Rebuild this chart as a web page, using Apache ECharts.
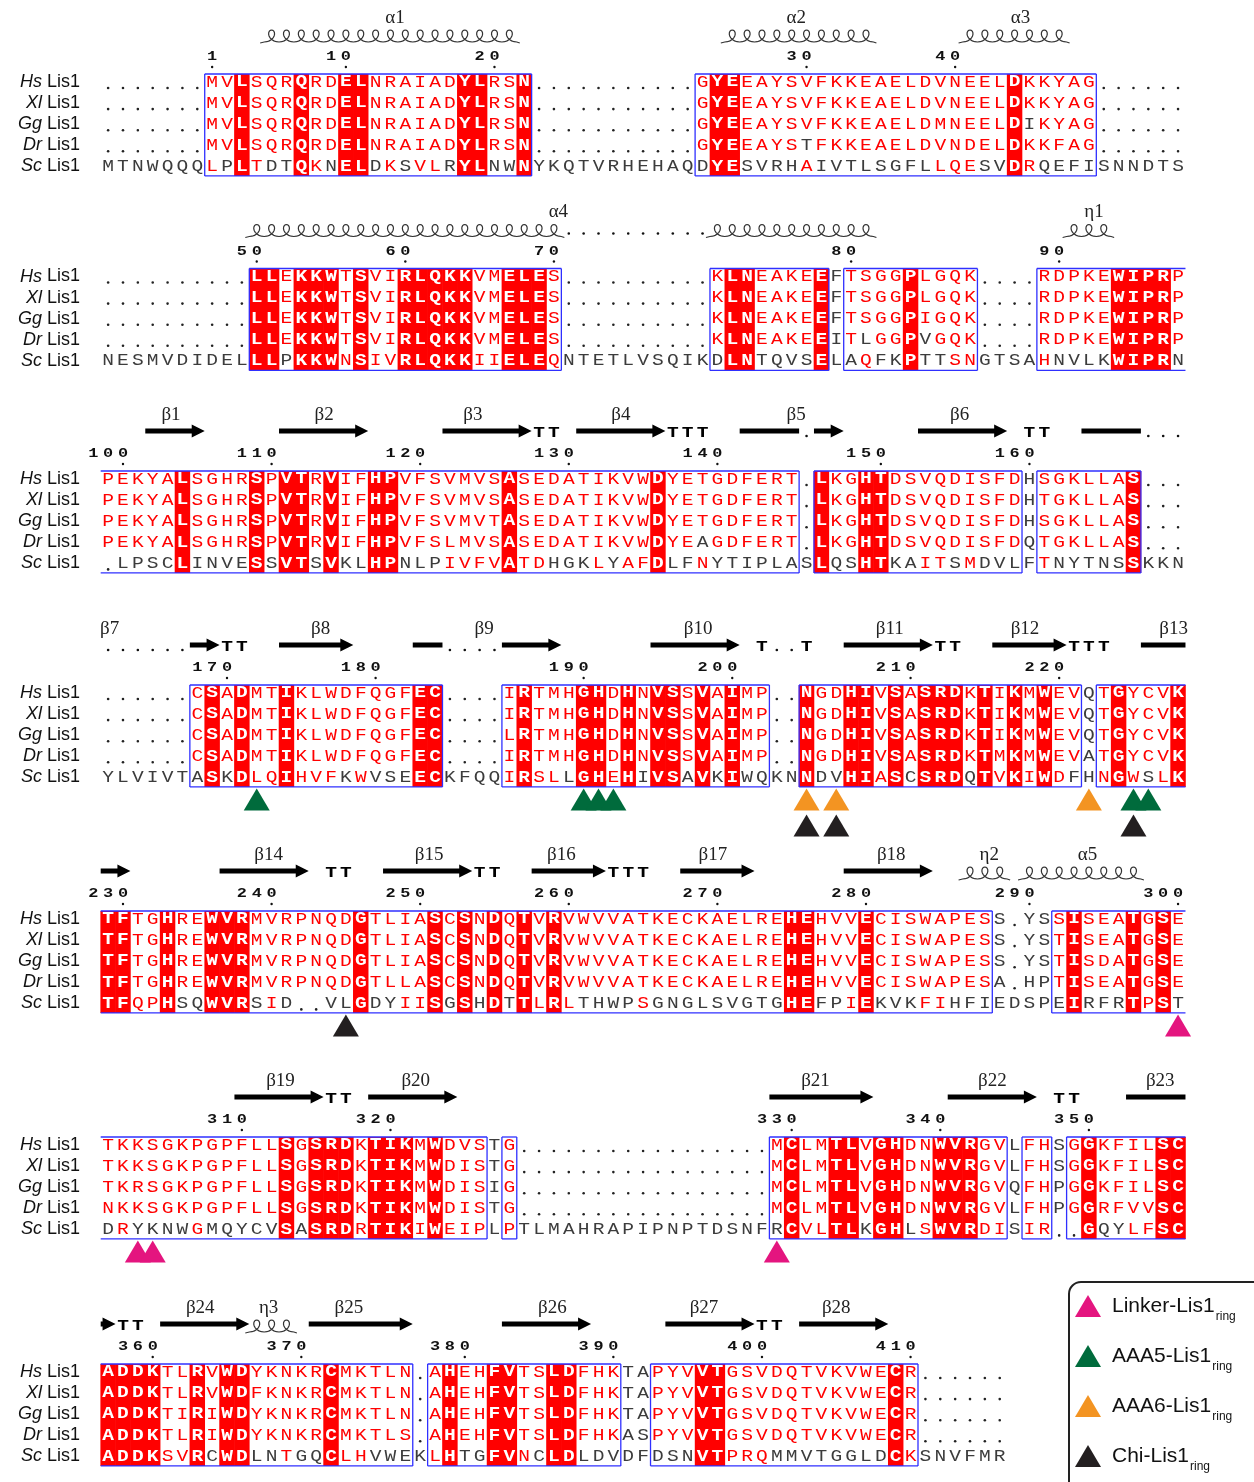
<!DOCTYPE html>
<html>
<head>
<meta charset="utf-8">
<script src="https://cdn.jsdelivr.net/npm/echarts@6.0.0/dist/echarts.min.js"></script>
<style>
html,body{margin:0;padding:0;background:#ffffff;}
#chart{width:1254px;height:1482px;}
</style>
</head>
<body>
<div id="chart"></div>
<script>
// ================= DATA =================
const speciesNames = ['Hs', 'Xl', 'Gg', 'Dr', 'Sc'];
const markKinds = ['Linker-Lis1', 'AAA5-Lis1', 'AAA6-Lis1', 'Chi-Lis1'];
const markColors = ['#e4157f', '#006b3c', '#f39422', '#231f20'];

// ---- block 1 ----
const b1Seq = [
  '.......MVLSQRQRDELNRAIADYLRSN...........GYEEAYSVFKKEAELDVNEELDKKYAG......',
  '.......MVLSQRQRDELNRAIADYLRSN...........GYEEAYSVFKKEAELDVNEELDKKYAG......',
  '.......MVLSQRQRDELNRAIADYLRSN...........GYEEAYSVFKKEAELDMNEELDIKYAG......',
  '.......MVLSQRQRDELNRAIADYLRSN...........GYEEAYSTFKKEAELDVNDELDKKFAG......',
  'MTNWQQQLPLTDTQKNELDKSVLRYLNWNYKQTVRHEHAQDYESVRHAIVTLSGFLLQESVDRQEFISNNDTS'
];
const b1Ident = [9, 13, 16, 17, 24, 25, 28, 41, 42, 61];
const b1Boxes = [[7, 28, 0, 0], [40, 66, 0, 0]];
const b1Plain = [[2, [62]], [3, [47]], [4, [8, 11, 12, 15, 18, 20, 23, 26, 27, 40, 43, 44, 45, 46, 48, 49, 50, 51, 52, 53, 54, 55, 59, 60, 63, 64, 65, 66]]];
const b1Numbers = [[7, '1'], [16, '10'], [26, '20'], [47, '30'], [57, '40']];
const b1Helix = [[11, 27], [42, 51], [58, 64]];
const b1Strand = [], b1Coil = [], b1Turn = [], b1Gap = [];
const b1SSLabel = [[19.8, 'α1'], [46.8, 'α2'], [61.9, 'α3']];
const b1Marks = [];

// ---- block 2 ----
const b2Seq = [
  '..........LLEKKWTSVIRLQKKVMELES..........KLNEAKEEFTSGGPLGQK....RDPKEWIPRP',
  '..........LLEKKWTSVIRLQKKVMELES..........KLNEAKEEFTSGGPLGQK....RDPKEWIPRP',
  '..........LLEKKWTSVIRLQKKVMELES..........KLNEAKEEFTSGGPIGQK....RDPKEWIPRP',
  '..........LLEKKWTSVIRLQKKVMELES..........KLNEAKEEITLGGPVGQK....RDPKEWIPRP',
  'NESMVDIDELLLPKKWNSIVRLQKKIIELEQNTETLVSQIKDLNTQVSELAQFKPTTSNGTSAHNVLKWIPRN'
];
const b2Ident = [10, 11, 13, 14, 15, 17, 20, 21, 22, 23, 24, 27, 28, 29, 42, 43, 48, 54, 68, 69, 70, 71];
const b2Boxes = [[10, 30, 0, 0], [41, 48, 0, 0], [50, 58, 0, 0], [63, 72, 0, 1]];
const b2Plain = [[3, [51, 55]], [4, [12, 41, 44, 45, 46, 47, 50, 52, 53, 55, 56, 64, 65, 66, 67, 72]]];
const b2Numbers = [[10, '50'], [20, '60'], [30, '70'], [50, '80'], [64, '90']];
const b2Helix = [[10, 30], [41, 51], [65, 67]];
const b2Strand = [], b2Coil = [], b2Turn = [];
const b2Gap = [31, 32, 33, 34, 35, 36, 37, 38, 39, 40];
const b2SSLabel = [[30.8, 'α4'], [66.85, 'η1']];
const b2Marks = [];

// ---- block 3 ----
const b3Seq = [
  'PEKYALSGHRSPVTRVIFHPVFSVMVSASEDATIKVWDYETGDFERT.LKGHTDSVQDISFDHSGKLLAS...',
  'PEKYALSGHRSPVTRVIFHPVFSVMVSASEDATIKVWDYETGDFERT.LKGHTDSVQDISFDHTGKLLAS...',
  'PEKYALSGHRSPVTRVIFHPVFSVMVTASEDATIKVWDYETGDFERT.LKGHTDSVQDISFDHSGKLLAS...',
  'PEKYALSGHRSPVTRVIFHPVFSLMVSASEDATIKVWDYEAGDFERT.LKGHTDSVQDISFDQTGKLLAS...',
  '.LPSCLINVESSVTSVKLHPNLPIVFVATDHGKLYAFDLFNYTIPLASLQSHTKAITSMDVLFTNYTNSSKKN'
];
const b3Ident = [5, 10, 12, 13, 15, 18, 19, 27, 37, 48, 51, 52, 69];
const b3Boxes = [[0, 46, 1, 0], [48, 61, 0, 0], [63, 69, 0, 0]];
const b3Plain = [[3, [40]], [4, [1, 2, 3, 4, 6, 7, 8, 9, 11, 14, 16, 17, 20, 21, 22, 30, 31, 32, 34, 38, 39, 41, 42, 43, 44, 45, 46, 49, 50, 53, 54, 57, 59, 60, 61, 64, 65, 66, 67, 68]]];
const b3Numbers = [[1, '100'], [11, '110'], [21, '120'], [31, '130'], [41, '140'], [52, '150'], [62, '160']];
const b3Helix = [];
const b3Strand = [[3, 6], [12, 17], [23, 28], [32, 37], [48, 49], [55, 60]];
const b3Coil = [[43, 46], [66, 69]];
const b3Turn = [29, 30, 38, 39, 40, 62, 63];
const b3Gap = [47, 70, 71, 72];
const b3SSLabel = [[4.73, 'β1'], [15.03, 'β2'], [25.05, 'β3'], [35, 'β4'], [46.8, 'β5'], [57.8, 'β6']];
const b3Marks = [];

// ---- block 4 ----
const b4Seq = [
  '......CSADMTIKLWDFQGFEC....IRTMHGHDHNVSSVAIMP..NGDHIVSASRDKTIKMWEVQTGYCVK',
  '......CSADMTIKLWDFQGFEC....IRTMHGHDHNVSSVAIMP..NGDHIVSASRDKTIKMWEVQTGYCVK',
  '......CSADMTIKLWDFQGFEC....LRTMHGHDHNVSSVAIMP..NGDHIVSASRDKTIKMWEVQTGYCVK',
  '......CSADMTIKLWDFQGFEC....IRTMHGHDHNVSSVAIMP..NGDHIVSASRDKTMKMWEVATGYCVK',
  'YLVIVTASKDLQIHVFKWVSEECKFQQIRSLLGHEHIVSAVKIWQKNNDVHIASCSRDQTVKIWDFHNGWSLK'
];
const b4Ident = [7, 9, 12, 21, 22, 28, 32, 33, 35, 37, 38, 40, 42, 47, 50, 51, 53, 55, 56, 57, 59, 61, 63, 68, 72];
const b4Boxes = [[6, 22, 0, 0], [27, 44, 0, 0], [47, 65, 0, 0], [67, 72, 0, 1]];
const b4Plain = [[4, [6, 8, 16, 18, 19, 20, 31, 36, 39, 41, 43, 44, 48, 49, 54, 58, 65, 70]]];
const b4Numbers = [[8, '170'], [18, '180'], [32, '190'], [42, '200'], [54, '210'], [64, '220']];
const b4Helix = [];
const b4Strand = [[6, 7], [12, 16], [27, 30], [37, 42], [50, 55], [60, 64]];
const b4Coil = [[21, 22], [70, 72]];
const b4Turn = [8, 9, 44, 47, 56, 57, 65, 66, 67];
const b4Gap = [0, 1, 2, 3, 4, 5, 23, 24, 25, 26, 45, 46];
const b4SSLabel = [[0.6, 'β7'], [14.8, 'β8'], [25.8, 'β9'], [40.2, 'β10'], [53.1, 'β11'], [62.2, 'β12'], [72.2, 'β13']];
// [column, level, kind index]
const b4Marks = [[10, 0, 1], [32, 0, 1], [33, 0, 1], [34, 0, 1], [47, 0, 2], [49, 0, 2], [66, 0, 2], [69, 0, 1], [70, 0, 1], [47, 1, 3], [49, 1, 3], [69, 1, 3]];

// ---- block 5 ----
const b5Seq = [
  'TFTGHREWVRMVRPNQDGTLIASCSNDQTVRVWVVATKECKAELREHEHVVECISWAPESS.YSSISEATGSE',
  'TFTGHREWVRMVRPNQDGTLIASCSNDQTVRVWVVATKECKAELREHEHVVECISWAPESS.YSTISEATGSE',
  'TFTGHREWVRMVRPNQDGTLIASCSNDQTVRVWVVATKECKAELREHEHVVECISWAPESS.YSTISDATGSE',
  'TFTGHREWVRMVRPNQDGTLLASCSNDQTVRVWVVATKECKAELREHEHVVECISWAPESA.HPTISEATGSE',
  'TFQPHSQWVRSID..VLGDYIISGSHDTTLRLTHWPSGNGLSVGTGHEFPIEKVKFIHFIEDSPEIRFRTPST'
];
const b5Ident = [0, 1, 4, 7, 8, 9, 17, 22, 24, 26, 28, 30, 46, 47, 51, 65, 69, 71];
const b5Boxes = [[0, 59, 1, 0], [64, 72, 0, 1]];
const b5Plain = [[4, [5, 6, 10, 12, 15, 16, 18, 19, 23, 25, 27, 32, 33, 34, 35, 37, 38, 39, 40, 41, 42, 43, 44, 45, 48, 49, 52, 53, 54, 57, 58, 59, 64, 66, 67, 68, 72]]];
const b5Numbers = [[1, '230'], [11, '240'], [21, '250'], [31, '260'], [41, '270'], [51, '280'], [62, '290'], [72, '300']];
const b5Helix = [[58, 60], [62, 69]];
const b5Strand = [[0, 1], [8, 13], [19, 24], [29, 33], [39, 43], [50, 55]];
const b5Coil = [];
const b5Turn = [15, 16, 25, 26, 34, 35, 36];
const b5Gap = [];
const b5SSLabel = [[11.3, 'β14'], [22.1, 'β15'], [31, 'β16'], [41.2, 'β17'], [53.2, 'β18'], [59.8, 'η2'], [66.4, 'α5']];
const b5Marks = [[16, 0, 3], [72, 0, 0]];

// ---- block 6 ----
const b6Seq = [
  'TKKSGKPGPFLLSGSRDKTIKMWDVSTG.................MCLMTLVGHDNWVRGVLFHSGGKFILSC',
  'TKKSGKPGPFLLSGSRDKTIKMWDISTG.................MCLMTLVGHDNWVRGVLFHSGGKFILSC',
  'TKRSGKPGPFLLSGSRDKTIKMWDISIG.................MCLMTLVGHDNWVRGVQFHPGGKFILSC',
  'NKKSGKPGPFLLSGSRDKTIKMWDISTG.................MCLMTLVGHDNWVRGVLFHPGGRFVVSC',
  'DRYKNWGMQYCVSASRDRTIKIWEIPLPTLMAHRAPIPNPTDSNFRCVLTLKGHLSWVRDISIR..GQYLFSC'
];
const b6Ident = [12, 14, 15, 16, 18, 19, 20, 22, 46, 49, 50, 52, 53, 56, 57, 58, 66, 71, 72];
const b6Boxes = [[0, 25, 1, 0], [27, 27, 0, 0], [45, 60, 0, 0], [62, 63, 0, 0], [65, 72, 0, 1]];
const b6Plain = [[4, [0, 2, 3, 4, 5, 7, 8, 9, 10, 11, 13, 45, 51, 54, 67, 68]]];
const b6Numbers = [[9, '310'], [19, '320'], [46, '330'], [56, '340'], [66, '350']];
const b6Helix = [];
const b6Strand = [[9, 14], [18, 23], [45, 51], [57, 62]];
const b6Coil = [[69, 72]];
const b6Turn = [15, 16, 64, 65];
const b6Gap = [];
const b6SSLabel = [[12.1, 'β19'], [21.2, 'β20'], [48.1, 'β21'], [60, 'β22'], [71.3, 'β23']];
const b6Marks = [[2, 0, 0], [3, 0, 0], [45, 0, 0]];

// ---- block 7 ----
const b7Seq = [
  'ADDKTLRVWDYKNKRCMKTLN.AHEHFVTSLDFHKTAPYVVTGSVDQTVKVWECR......',
  'ADDKTLRVWDFKNKRCMKTLN.AHEHFVTSLDFHKTAPYVVTGSVDQTVKVWECR......',
  'ADDKTIRIWDYKNKRCMKTLN.AHEHFVTSLDFHKTAPYVVTGSVDQTVKVWECR......',
  'ADDKTLRIWDYKNKRCMKTLS.AHEHFVTSLDFHKASPYVVTGSVDQTVKVWECR......',
  'ADDKSVRCWDLNTGQCLHVWEKLHTGFVNCLDLDVDFDSNVTPRQMMVTGGLDCKSNVFMR'
];
const b7Ident = [0, 1, 2, 3, 6, 8, 9, 15, 23, 26, 27, 30, 31, 40, 41, 53];
const b7Boxes = [[0, 20, 1, 0], [22, 34, 0, 0], [37, 54, 0, 0]];
const b7Plain = [[4, [7, 10, 11, 13, 14, 18, 19, 20, 24, 25, 29, 32, 33, 34, 37, 38, 39, 45, 46, 47, 48, 49, 50, 51, 52]]];
const b7Numbers = [[3, '360'], [13, '370'], [24, '380'], [34, '390'], [44, '400'], [54, '410']];
const b7Helix = [[10, 12]];
const b7Strand = [[0, 0], [4, 9], [14, 20], [27, 32], [38, 43], [47, 52]];
const b7Coil = [];
const b7Turn = [1, 2, 44, 45];
const b7Gap = [];
const b7SSLabel = [[6.7, 'β24'], [11.3, 'η3'], [16.7, 'β25'], [30.4, 'β26'], [40.6, 'β27'], [49.5, 'β28']];
const b7Marks = [];

// ================= LAYOUT / STYLE =================
const W = 1254, X0 = 100.7, COLW = 14.86, RH = 21.1;
const blockRowY = [82, 276.5, 479, 693, 919, 1145, 1372];
const RED = '#ff0000', INK = '#3c3c3c', BLUE = '#2f2fff';
const FONT_N = '17px "Liberation Mono"', FONT_B = 'bold 17px "Liberation Mono"';

const blocks = [
  {seq: b1Seq, ident: b1Ident, boxes: b1Boxes, plain: b1Plain, nums: b1Numbers, helix: b1Helix, strand: b1Strand, coil: b1Coil, turn: b1Turn, gap: b1Gap, labels: b1SSLabel, marks: b1Marks},
  {seq: b2Seq, ident: b2Ident, boxes: b2Boxes, plain: b2Plain, nums: b2Numbers, helix: b2Helix, strand: b2Strand, coil: b2Coil, turn: b2Turn, gap: b2Gap, labels: b2SSLabel, marks: b2Marks},
  {seq: b3Seq, ident: b3Ident, boxes: b3Boxes, plain: b3Plain, nums: b3Numbers, helix: b3Helix, strand: b3Strand, coil: b3Coil, turn: b3Turn, gap: b3Gap, labels: b3SSLabel, marks: b3Marks},
  {seq: b4Seq, ident: b4Ident, boxes: b4Boxes, plain: b4Plain, nums: b4Numbers, helix: b4Helix, strand: b4Strand, coil: b4Coil, turn: b4Turn, gap: b4Gap, labels: b4SSLabel, marks: b4Marks},
  {seq: b5Seq, ident: b5Ident, boxes: b5Boxes, plain: b5Plain, nums: b5Numbers, helix: b5Helix, strand: b5Strand, coil: b5Coil, turn: b5Turn, gap: b5Gap, labels: b5SSLabel, marks: b5Marks},
  {seq: b6Seq, ident: b6Ident, boxes: b6Boxes, plain: b6Plain, nums: b6Numbers, helix: b6Helix, strand: b6Strand, coil: b6Coil, turn: b6Turn, gap: b6Gap, labels: b6SSLabel, marks: b6Marks},
  {seq: b7Seq, ident: b7Ident, boxes: b7Boxes, plain: b7Plain, nums: b7Numbers, helix: b7Helix, strand: b7Strand, coil: b7Coil, turn: b7Turn, gap: b7Gap, labels: b7SSLabel, marks: b7Marks}
];

const grids = [], xAxes = [], yAxes = [], series = [];

function base(bi, extra) {
  return Object.assign({type: 'custom', xAxisIndex: bi, yAxisIndex: bi, silent: true, animation: false, clip: false, encode: {x: 0, y: 1}}, extra);
}

blocks.forEach((blk, bi) => {
  grids.push({left: 0, top: blockRowY[bi] - 4.5 * RH, width: W, height: 11.5 * RH, containLabel: false, outerBoundsMode: 'none'});
  xAxes.push({type: 'value', gridIndex: bi, min: -X0 / COLW, max: (W - X0) / COLW, show: false});
  yAxes.push({type: 'value', gridIndex: bi, min: -4.5, max: 7, inverse: true, show: false});

  // identical columns (red background)
  series.push(base(bi, {
    z: 1,
    data: blk.ident.map(c => [c, 0]),
    renderItem(params, api) {
      const c = api.value(0);
      const a = api.coord([c, 0]), b = api.coord([c + 1, 4]);
      return {type: 'rect', shape: {x: a[0] - 0.3, y: a[1] - 8, width: b[0] - a[0] + 0.6, height: b[1] - a[1] + 17.5}, style: {fill: RED}};
    }
  }));

  // similarity frames
  series.push(base(bi, {
    z: 2,
    data: blk.boxes.map(b => b.slice()),
    renderItem(params, api) {
      const c0 = api.value(0), c1 = api.value(1), oL = api.value(2), oR = api.value(3);
      const a = api.coord([c0, 0]), b = api.coord([c1 + 1, 4]);
      const t = a[1] - 8, bt = b[1] + 9.5;
      const st = () => ({stroke: BLUE, lineWidth: 1.3, fill: null});
      const ch = [
        {type: 'line', shape: {x1: a[0], y1: t, x2: b[0], y2: t}, style: st()},
        {type: 'line', shape: {x1: a[0], y1: bt, x2: b[0], y2: bt}, style: st()}
      ];
      if (!oL) ch.push({type: 'line', shape: {x1: a[0], y1: t, x2: a[0], y2: bt}, style: st()});
      if (!oR) ch.push({type: 'line', shape: {x1: b[0], y1: t, x2: b[0], y2: bt}, style: st()});
      return {type: 'group', children: ch};
    }
  }));

  // residues
  const identSet = new Set(blk.ident);
  const plainSet = new Set();
  blk.plain.forEach(([r, cols]) => cols.forEach(c => plainSet.add(r * 1000 + c)));
  const inBox = c => blk.boxes.some(b => c >= b[0] && c <= b[1]);
  const cellData = [], cellMeta = [];
  blk.seq.forEach((s, r) => {
    for (let c = 0; c < s.length; c++) {
      const ch = s[c];
      let st = 'k';
      if (ch === '.') st = 'gap';
      else if (identSet.has(c)) st = 'id';
      else if (inBox(c) && !plainSet.has(r * 1000 + c)) st = 'sim';
      cellData.push([c, r]);
      cellMeta.push([ch, st]);
    }
  });
  series.push(base(bi, {
    z: 3,
    data: cellData,
    renderItem(params, api) {
      const m = cellMeta[params.dataIndex];
      const p = api.coord([api.value(0) + 0.5, api.value(1)]);
      if (m[1] === 'gap') return {type: 'circle', shape: {cx: p[0], cy: p[1] + 6, r: 1.3}, style: {fill: '#222'}};
      return {type: 'text', x: p[0], y: p[1], scaleX: 1.15,
        style: {text: m[0], font: m[1] === 'id' ? FONT_B : FONT_N, fill: m[1] === 'id' ? '#ffffff' : (m[1] === 'sim' ? RED : INK), align: 'center', verticalAlign: 'middle'}};
    }
  }));

  // species labels
  series.push(base(bi, {
    z: 3,
    data: speciesNames.map((n, r) => [(80 - X0) / COLW, r]),
    renderItem(params, api) {
      const p = api.coord([api.value(0), api.value(1)]);
      return {type: 'text', x: p[0], y: p[1],
        style: {text: '{i|' + speciesNames[params.dataIndex] + '} Lis1', font: '18px "Liberation Sans"', fill: '#111',
          rich: {i: {font: 'italic 18px "Liberation Sans"', fill: '#111'}}, align: 'right', verticalAlign: 'middle'}};
    }
  }));

  // residue numbering
  series.push(base(bi, {
    z: 3,
    data: blk.nums.map(n => [n[0], 0]),
    renderItem(params, api) {
      const c = api.value(0), s = blk.nums[params.dataIndex][1];
      const y0 = api.coord([0, 0])[1];
      const ch = s.split('').map((d, i) => ({type: 'text', x: api.coord([c - (s.length - 1 - i) + 0.5, 0])[0], y: y0 - 25, scaleX: 1.3,
        style: {text: d, font: 'bold 13px "Liberation Mono"', fill: '#111', align: 'center', verticalAlign: 'middle'}}));
      ch.push({type: 'circle', shape: {cx: api.coord([c + 0.5, 0])[0], cy: y0 - 15, r: 1.2}, style: {fill: '#111'}});
      return {type: 'group', children: ch};
    }
  }));

  // secondary structure: [c0, c1, kind]  kind: 0 helix, 1 strand, 2 coil, 3 turn, 4 gap, 5 label
  const ssData = [], ssMeta = [];
  blk.helix.forEach(h => { ssData.push([h[0], h[1], 0]); ssMeta.push(''); });
  blk.strand.forEach(h => { ssData.push([h[0], h[1], 1]); ssMeta.push(''); });
  blk.coil.forEach(h => { ssData.push([h[0], h[1], 2]); ssMeta.push(''); });
  blk.turn.forEach(c => { ssData.push([c, c, 3]); ssMeta.push('T'); });
  blk.gap.forEach(c => { ssData.push([c, c, 4]); ssMeta.push(''); });
  blk.labels.forEach(l => { ssData.push([l[0], l[0], 5]); ssMeta.push(l[1]); });
  series.push(base(bi, {
    z: 3,
    data: ssData,
    renderItem(params, api) {
      const c0 = api.value(0), c1 = api.value(1), kind = api.value(2);
      const y0 = api.coord([0, 0])[1];
      const w = api.size([1, 0])[0];
      const xL = api.coord([c0, 0])[0], xR = api.coord([c1 + 1, 0])[0];
      const xc = api.coord([c0 + 0.5, 0])[0];
      if (kind === 0) {
        const n = c1 - c0 + 1, pts = [], baseY = y0 - 40, h = 12;
        pts.push([xL - 4, baseY + 1]);
        for (let k = 0; k < n; k++) for (let j = 0; j < 20; j++) {
          const u = j / 20;
          pts.push([xL + (k + u) * w + 0.42 * w * Math.sin(2 * Math.PI * u), baseY - h * (1 - Math.cos(2 * Math.PI * u)) / 2]);
        }
        pts.push([xL + n * w, baseY]);
        pts.push([xL + n * w + 3, baseY + 1]);
        return {type: 'polyline', shape: {points: pts}, style: {stroke: '#333', lineWidth: 1.2, fill: null}};
      }
      if (kind === 1) {
        const yc = y0 - 48, hl = 13;
        let pts;
        if (xR - xL <= hl + 1) pts = [[xL, yc - 6.5], [xR, yc], [xL, yc + 6.5]];
        else pts = [[xL, yc - 2.5], [xR - hl, yc - 2.5], [xR - hl, yc - 6.5], [xR, yc], [xR - hl, yc + 6.5], [xR - hl, yc + 2.5], [xL, yc + 2.5]];
        return {type: 'polygon', shape: {points: pts}, style: {fill: '#000'}};
      }
      if (kind === 2) {
        return {type: 'rect', shape: {x: xL, y: y0 - 50.5, width: xR - xL, height: 5}, style: {fill: '#000'}};
      }
      if (kind === 3) {
        return {type: 'text', x: xc, y: y0 - 46, scaleX: 1.3, style: {text: 'T', font: 'bold 15px "Liberation Mono"', fill: '#000', align: 'center', verticalAlign: 'middle'}};
      }
      if (kind === 4) {
        return {type: 'circle', shape: {cx: xc, cy: y0 - 43, r: 1.3}, style: {fill: '#111'}};
      }
      const lx = api.coord([c0, 0])[0];
      return {type: 'text', x: lx, y: y0 - 64, style: {text: ssMeta[params.dataIndex], font: '19px "Liberation Serif"', fill: '#222', align: 'center', verticalAlign: 'middle'}};
    }
  }));

  // interface marks (triangles)
  markKinds.forEach((name, k) => {
    const pts = blk.marks.filter(m => m[2] === k).map(m => [m[0], m[1]]);
    if (!pts.length) return;
    series.push(base(bi, {
      name: name,
      z: 4,
      itemStyle: {color: markColors[k]},
      data: pts,
      renderItem(params, api) {
        const c = api.value(0), lv = api.value(1);
        const p = api.coord([c + 0.5, 4]);
        const top = p[1] + 11 + lv * 26, bot = top + 22;
        return {type: 'polygon', shape: {points: [[p[0], top], [p[0] + 13, bot], [p[0] - 13, bot]]}, style: {fill: api.visual('color')}};
      }
    }));
  });
});

const chart = echarts.init(document.getElementById('chart'), null, {renderer: 'canvas'});
chart.setOption({
  backgroundColor: '#ffffff',
  animation: false,
  grid: grids,
  xAxis: xAxes,
  yAxis: yAxes,
  legend: {
    type: 'plain',
    left: 1069, top: 1282,
    height: 320,
    orient: 'vertical',
    selectedMode: false,
    data: markKinds.map(n => ({name: n, icon: 'triangle'})),
    itemWidth: 26, itemHeight: 22, itemGap: 22,
    padding: [13, 40, 60, 6],
    borderColor: '#222', borderWidth: 2, borderRadius: 12,
    formatter: name => '{n|' + name + '}{s|ring}',
    textStyle: {
      color: '#111',
      rich: {
        n: {fontSize: 21, fontFamily: 'Liberation Sans', color: '#111', padding: [0, 0, 0, 6]},
        s: {fontSize: 12, fontFamily: 'Liberation Sans', color: '#111', padding: [22, 0, 0, 1]}
      }
    }
  },
  series: series
});
</script>
</body>
</html>
